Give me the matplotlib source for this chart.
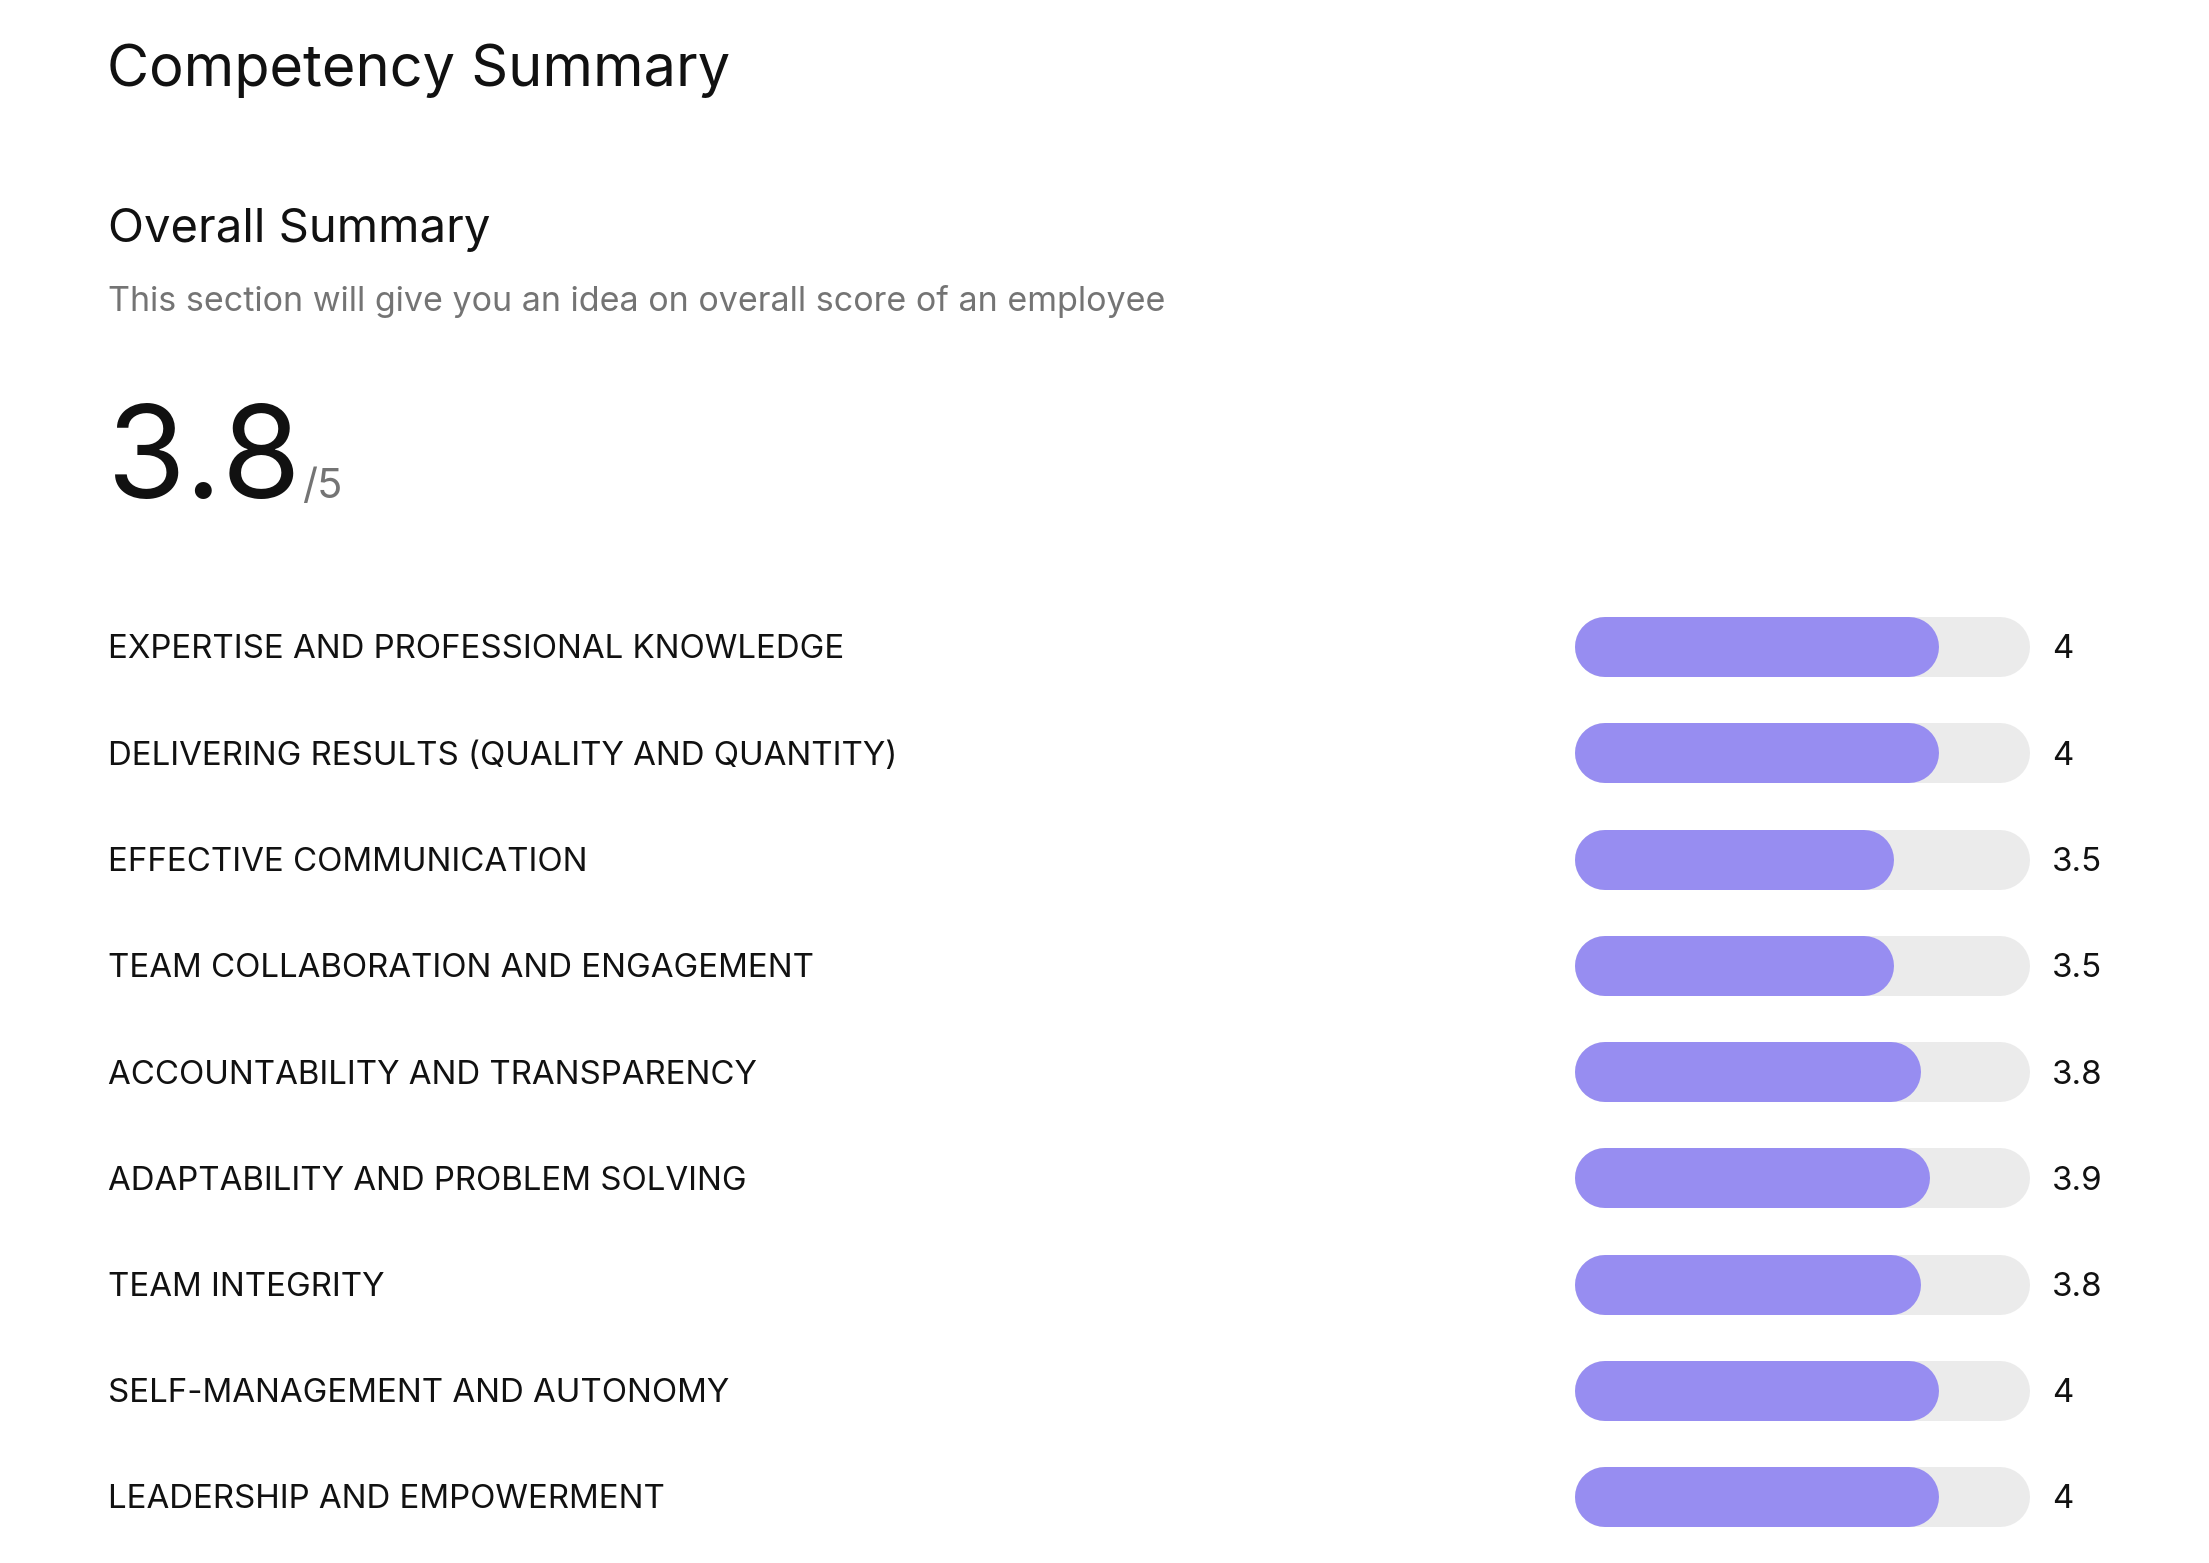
import matplotlib
matplotlib.use("Agg")
import matplotlib.pyplot as plt
from matplotlib.transforms import blended_transform_factory, offset_copy

# ---------------- data ----------------
title = "Competency Summary"
section_title = "Overall Summary"
section_subtitle = "This section will give you an idea on overall score of an employee"
overall_score = "3.8"
score_max = 5
categories = [
    "EXPERTISE AND PROFESSIONAL KNOWLEDGE",
    "DELIVERING RESULTS (QUALITY AND QUANTITY)",
    "EFFECTIVE COMMUNICATION",
    "TEAM COLLABORATION AND ENGAGEMENT",
    "ACCOUNTABILITY AND TRANSPARENCY",
    "ADAPTABILITY AND PROBLEM SOLVING",
    "TEAM INTEGRITY",
    "SELF-MANAGEMENT AND AUTONOMY",
    "LEADERSHIP AND EMPOWERMENT",
]
scores = [4, 4, 3.5, 3.5, 3.8, 3.9, 3.8, 4, 4]
score_labels = ["4", "4", "3.5", "3.5", "3.8", "3.9", "3.8", "4", "4"]

# ---------------- style ----------------
W, H, DPI = 2209, 1563, 100
FILL = "#978DF1"
TRACK = "#EBEBEB"
DARK = "#111111"
GREY = "#747474"
FONT = ["Inter", "DejaVu Sans"]

def fx(px):
    return px / W

def fy(py):
    return 1 - py / H

fig = plt.figure(figsize=(W / DPI, H / DPI), dpi=DPI, facecolor="white")

fig.text(fx(107), fy(86), title, fontsize=41.5, color=DARK, family=FONT, va="baseline", ha="left")
fig.text(fx(108), fy(242), section_title, fontsize=34, color=DARK, family=FONT, va="baseline", ha="left")
fig.text(fx(108), fy(311), section_subtitle, fontsize=24.5, color=GREY, family=FONT, va="baseline", ha="left")
fig.text(fx(107), fy(498), overall_score, fontsize=92, color=DARK, family=FONT, va="baseline", ha="left")
fig.text(fx(302), fy(498), f"/{score_max}", fontsize=30, color=GREY, family=FONT, va="baseline", ha="left")

# bar area
bar_left, bar_right = 1575, 2030
row0, row_step = 647, 106.25
n = len(categories)
top_px = row0 - row_step / 2
bot_px = row0 + row_step * (n - 0.5)
ax = fig.add_axes([fx(bar_left), fy(bot_px), fx(bar_right - bar_left), (bot_px - top_px) / H])
ax.set_xlim(0, score_max)
ax.set_ylim(n - 0.5, -0.5)
ax.axis("off")

bar_h_px = 60
lw = bar_h_px * 72 / DPI
r = (bar_h_px / 2) / (bar_right - bar_left) * score_max

for i, v in enumerate(scores):
    ax.plot([r, score_max - r], [i, i], color=TRACK, lw=lw, solid_capstyle="round", zorder=1)
    ax.plot([r, v - r], [i, i], color=FILL, lw=lw, solid_capstyle="round", zorder=2)

lab_tr = blended_transform_factory(fig.transFigure, ax.transData)
# put the baseline half a cap height below the row centre
lab_tr = offset_copy(lab_tr, fig=fig, x=0, y=-11.5 * 72 / DPI, units="points")
for i, (c, s) in enumerate(zip(categories, score_labels)):
    ax.text(fx(108), i, c, transform=lab_tr, fontsize=23.8, color=DARK, family=FONT,
            va="baseline", ha="left")
    ax.text(fx(2052), i, s, transform=lab_tr, fontsize=23.8, color=DARK, family=FONT,
            va="baseline", ha="left")

fig.savefig("out.png", dpi=DPI, facecolor="white")
